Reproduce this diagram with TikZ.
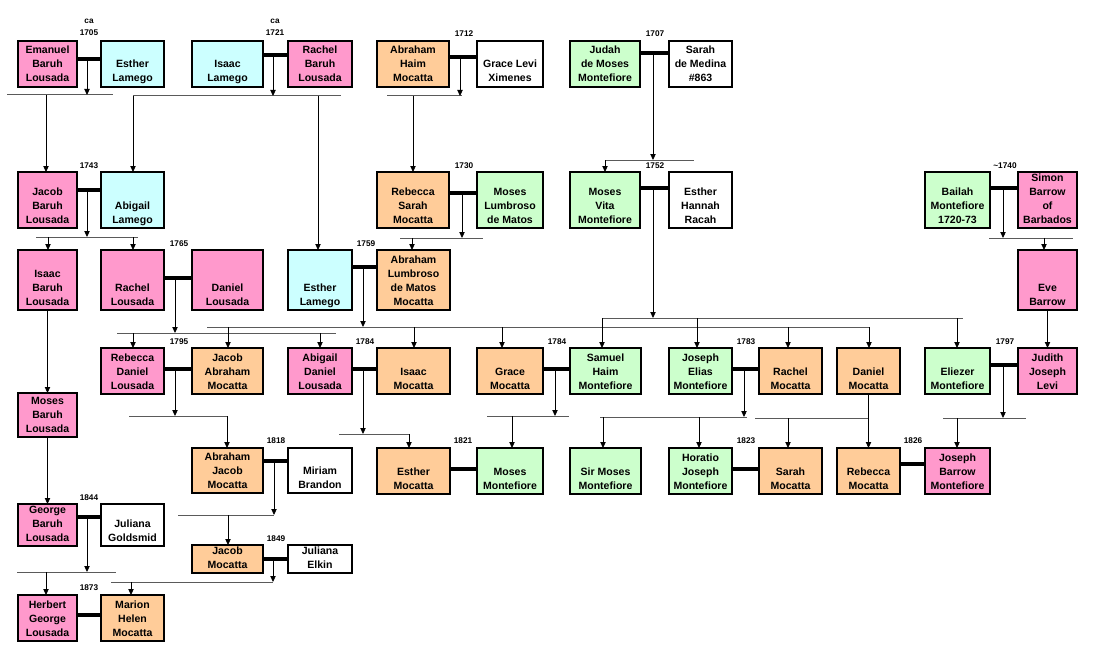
\documentclass[tikz,border=0pt]{standalone}
\usepackage{fontspec}
\setmainfont{Liberation Sans}
\usetikzlibrary{arrows.meta}
\definecolor{pk}{HTML}{FF99CC}
\definecolor{cy}{HTML}{CCFFFF}
\definecolor{orF}{HTML}{FFCC99}
\definecolor{gr}{HTML}{CCFFCC}
\definecolor{sibgray}{HTML}{5A5A5A}
\tikzset{
 boxst/.style={draw=black, line width=1.5pt, inner sep=0pt, outer sep=0pt},
 txt/.style={anchor=south, inner sep=0pt, outer sep=0pt, align=center, font=\fontsize{7.9}{10.5}\selectfont\bfseries},
 yr/.style={inner sep=0pt, outer sep=0pt, align=center, font=\fontsize{6.2}{9}\selectfont\bfseries},
 mbar/.style={line width=3.6pt},
 sib/.style={draw=sibgray, line width=0.75pt},
 arr/.style={line width=0.65pt, -{Triangle[length=4.5pt,width=4pt]}},
}
\newcommand\fbx[7]{\node[boxst, fill=#6, minimum width={(#4-#2)*0.75pt}, minimum height={(#5-#3)*0.75pt}] (#1) at ({(#2+#4)/2},{(#3+#5)/2}) {};
\node[txt] (#1-t) at ([yshift=0.6pt]#1.south) {#7\strut};}
\newcommand\marry[5]{\coordinate (#1) at (#4,#5); \draw[mbar] (#2.east |- #1) -- (#3.west |- #1);}
\newcommand\sibl[5]{\coordinate (#1a) at (#2,#4); \coordinate (#1b) at (#3,#4); \draw[sib] (#1a) -- (#1b);}
\newcommand\desc[2]{\draw[arr] (#1) -- (#1 |- #2);}
\newcommand\kid[3]{\path (#2,0) coordinate (kx); \draw[arr] (kx |- #1) -- (kx |- #3.north);}
\begin{document}
\begin{tikzpicture}[x=0.75pt,y=-0.75pt]
\useasboundingbox (0,0) rectangle (1094,656);
\fill[white] (0,0) rectangle (1094,656);
% Row 1
\fbx{emanuel}{18}{41}{77}{87}{pk}{Emanuel\\Baruh\\Lousada}
\fbx{estherLa}{101}{41}{164}{87}{cy}{Esther\\Lamego}
\fbx{isaacL}{192}{41}{263}{87}{cy}{Isaac\\Lamego}
\fbx{rachelBL}{288}{41}{352}{87}{pk}{Rachel\\Baruh\\Lousada}
\fbx{abrahamHM}{377}{41}{449}{87}{orF}{Abraham\\Haim\\Mocatta}
\fbx{graceLX}{477}{41}{543}{87}{white}{Grace Levi\\Ximenes}
\fbx{judah}{570}{41}{640}{87}{gr}{Judah\\de Moses\\Montefiore}
\fbx{sarahMed}{669}{41}{732}{87}{white}{Sarah\\de Medina\\\#863}
% Row 2
\fbx{jacobBL}{18}{172}{77}{228}{pk}{Jacob\\Baruh\\Lousada}
\fbx{abigailL}{101}{172}{164}{228}{cy}{Abigail\\Lamego}
\fbx{rebeccaSM}{377}{172}{449}{228}{orF}{Rebecca\\Sarah\\Mocatta}
\fbx{mosesLM}{477}{172}{543}{228}{gr}{Moses\\Lumbroso\\de Matos}
\fbx{mosesVM}{570}{172}{640}{228}{gr}{Moses\\Vita\\Montefiore}
\fbx{estherHR}{669}{172}{732}{228}{white}{Esther\\Hannah\\Racah}
\fbx{bailah}{925}{172}{990}{228}{gr}{Bailah\\Montefiore\\1720-73}
\fbx{simon}{1018}{172}{1077}{228}{pk}{Simon\\Barrow\\of\\Barbados}
% Row 3
\fbx{isaacBL}{18}{250}{77}{310}{pk}{Isaac\\Baruh\\Lousada}
\fbx{rachelL}{101}{250}{164}{310}{pk}{Rachel\\Lousada}
\fbx{danielL}{192}{250}{263}{310}{pk}{Daniel\\Lousada}
\fbx{estherLb}{288}{250}{352}{310}{cy}{Esther\\Lamego}
\fbx{abrahamLM}{377}{250}{450}{310}{orF}{Abraham\\Lumbroso\\de Matos\\Mocatta}
\fbx{eve}{1018}{250}{1077}{310}{pk}{Eve\\Barrow}
% Row 4
\fbx{mosesBL}{18}{393}{77}{437}{pk}{Moses\\Baruh\\Lousada}
\fbx{rebeccaDL}{101}{348}{164}{394}{pk}{Rebecca\\Daniel\\Lousada}
\fbx{jacobAM}{192}{348}{263}{394}{orF}{Jacob\\Abraham\\Mocatta}
\fbx{abigailDL}{288}{348}{352}{394}{pk}{Abigail\\Daniel\\Lousada}
\fbx{isaacM}{377}{348}{450}{394}{orF}{Isaac\\Mocatta}
\fbx{graceM}{477}{348}{543}{394}{orF}{Grace\\Mocatta}
\fbx{samuelHM}{570}{348}{641}{394}{gr}{Samuel\\Haim\\Montefiore}
\fbx{josephEM}{669}{348}{732}{394}{gr}{Joseph\\Elias\\Montefiore}
\fbx{rachelM}{759}{348}{822}{394}{orF}{Rachel\\Mocatta}
\fbx{danielM}{837}{348}{900}{394}{orF}{Daniel\\Mocatta}
\fbx{eliezer}{925}{348}{990}{394}{gr}{Eliezer\\Montefiore}
\fbx{judith}{1018}{348}{1077}{394}{pk}{Judith\\Joseph\\Levi}
% Row 5
\fbx{abrahamJM}{192}{448}{263}{493}{orF}{Abraham\\Jacob\\Mocatta}
\fbx{miriam}{288}{448}{352}{493}{white}{Miriam\\Brandon}
\fbx{estherM}{377}{448}{450}{494}{orF}{Esther\\Mocatta}
\fbx{mosesM}{477}{448}{543}{494}{gr}{Moses\\Montefiore}
\fbx{sirMoses}{570}{448}{641}{494}{gr}{Sir Moses\\Montefiore}
\fbx{horatio}{669}{448}{732}{494}{gr}{Horatio\\Joseph\\Montefiore}
\fbx{sarahMo}{759}{448}{822}{494}{orF}{Sarah\\Mocatta}
\fbx{rebeccaM}{837}{448}{900}{494}{orF}{Rebecca\\Mocatta}
\fbx{josephBM}{925}{448}{990}{494}{pk}{Joseph\\Barrow\\Montefiore}
% Row 6
\fbx{george}{18}{504}{77}{546}{pk}{George\\Baruh\\Lousada}
\fbx{julianaG}{101}{504}{164}{546}{white}{Juliana\\Goldsmid}
\fbx{jacobM}{192}{545}{263}{573}{orF}{Jacob\\Mocatta}
\fbx{julianaE}{288}{545}{352}{573}{white}{Juliana\\Elkin}
% Row 7
\fbx{herbert}{18}{595}{77}{641}{pk}{Herbert\\George\\Lousada}
\fbx{marion}{101}{595}{164}{641}{orF}{Marion\\Helen\\Mocatta}
% Years
\node[yr] (y1) at (89,27) {ca\\1705};
\node[yr] (y2) at (275,27) {ca\\1721};
\node[yr] (y3) at (464,34) {1712};
\node[yr] (y4) at (655,34) {1707};
\node[yr] (y5) at (89,166) {1743};
\node[yr] (y6) at (464,166) {1730};
\node[yr] (y7) at (655,166) {1752};
\node[yr] (y8) at (1005,166) {\textasciitilde1740};
\node[yr] (y9) at (179,244) {1765};
\node[yr] (y10) at (366,244) {1759};
\node[yr] (y11) at (179,342) {1795};
\node[yr] (y12) at (365,342) {1784};
\node[yr] (y13) at (557,342) {1784};
\node[yr] (y14) at (746,342) {1783};
\node[yr] (y15) at (1005,342) {1797};
\node[yr] (y16) at (276,441) {1818};
\node[yr] (y17) at (463,441) {1821};
\node[yr] (y18) at (746,441) {1823};
\node[yr] (y19) at (913,441) {1826};
\node[yr] (y20) at (89,498) {1844};
\node[yr] (y21) at (276,539) {1849};
\node[yr] (y22) at (89,588) {1873};
% Marriages
\marry{m1}{emanuel}{estherLa}{87}{59}
\marry{m2}{isaacL}{rachelBL}{273}{55}
\marry{m3}{abrahamHM}{graceLX}{460}{57}
\marry{m4}{judah}{sarahMed}{653}{53}
\marry{m5}{jacobBL}{abigailL}{87}{190}
\marry{m6}{rebeccaSM}{mosesLM}{462}{193}
\marry{m7}{mosesVM}{estherHR}{653}{188}
\marry{m8}{bailah}{simon}{1003}{188}
\marry{m9}{rachelL}{danielL}{175}{278}
\marry{m10}{estherLb}{abrahamLM}{363}{267}
\marry{m11}{rebeccaDL}{jacobAM}{175}{369}
\marry{m12}{abigailDL}{isaacM}{363}{369}
\marry{m13}{graceM}{samuelHM}{555}{369}
\marry{m14}{josephEM}{rachelM}{744}{369}
\marry{m15}{eliezer}{judith}{1003}{365}
\marry{m16}{abrahamJM}{miriam}{274}{461}
\marry{m17}{estherM}{mosesM}{463}{469}
\marry{m18}{horatio}{sarahMo}{746}{469}
\marry{m19}{rebeccaM}{josephBM}{913}{464}
\marry{m20}{george}{julianaG}{87}{517}
\marry{m21}{jacobM}{julianaE}{273}{559}
\marry{m22}{herbert}{marion}{89}{615}
% Sibling lines
\sibl{s1}{7}{113}{95}{}
\sibl{s2}{133}{341}{96}{}
\sibl{s3}{387}{462}{96}{}
\sibl{s4}{605}{694}{160}{}
\sibl{s5}{36}{138}{237}{}
\sibl{s6}{400}{483}{238}{}
\sibl{s7}{989}{1073}{238}{}
\sibl{s8}{117}{336}{333}{}
\sibl{s9}{207}{869}{327}{}
\sibl{s10}{602}{963}{318}{}
\sibl{s11}{129}{227}{416}{}
\sibl{s12}{339}{409}{434}{}
\sibl{s13}{487}{569}{416}{}
\sibl{s14}{600}{747}{417}{}
\sibl{s15}{755}{869}{418}{}
\sibl{s16}{943}{1026}{418}{}
\sibl{s17}{178}{274}{515}{}
\sibl{s18}{17}{116}{572}{}
\sibl{s19}{111}{273}{582}{}
% Descents
\desc{m1}{s1a}
\desc{m2}{s2a}
\desc{m3}{s3a}
\desc{m4}{s4a}
\desc{m5}{s5a}
\desc{m6}{s6a}
\desc{m7}{s10a}
\desc{m8}{s7a}
\desc{m9}{s8a}
\desc{m10}{s9a}
\desc{m11}{s11a}
\desc{m12}{s12a}
\desc{m13}{s13a}
\desc{m14}{s14a}
\desc{m15}{s16a}
\desc{m16}{s17a}
\desc{m20}{s18a}
\desc{m21}{s19a}
% Children
\kid{s1a}{46}{jacobBL}
\kid{s2a}{133}{abigailL}
\kid{s2a}{318}{estherLb}
\kid{s3a}{413}{rebeccaSM}
\kid{s4a}{605}{mosesVM}
\kid{s5a}{48}{isaacBL}
\kid{s5a}{133}{rachelL}
\kid{s6a}{412}{abrahamLM}
\kid{s7a}{1044}{eve}
\kid{s8a}{133}{rebeccaDL}
\kid{s8a}{320}{abigailDL}
\kid{s9a}{228}{jacobAM}
\kid{s9a}{414}{isaacM}
\kid{s9a}{502}{graceM}
\kid{s9a}{788}{rachelM}
\kid{s9a}{869}{danielM}
\kid{s10a}{602}{samuelHM}
\kid{s10a}{697}{josephEM}
\kid{s10a}{957}{eliezer}
\kid{s11a}{227}{abrahamJM}
\kid{s12a}{409}{estherM}
\kid{s13a}{512}{mosesM}
\kid{s14a}{603}{sirMoses}
\kid{s14a}{699}{horatio}
\kid{s15a}{788}{sarahMo}
\kid{s16a}{957}{josephBM}
\kid{s17a}{228}{jacobM}
\kid{s18a}{46}{herbert}
\kid{s19a}{131}{marion}
% Single-child lines
\draw[arr] (isaacBL.south) -- (mosesBL.north);
\draw[arr] (mosesBL.south) -- (george.north);
\draw[arr] (eve.south) -- (judith.north);
\draw[arr] (danielM.south) -- (rebeccaM.north);
\end{tikzpicture}
\end{document}
